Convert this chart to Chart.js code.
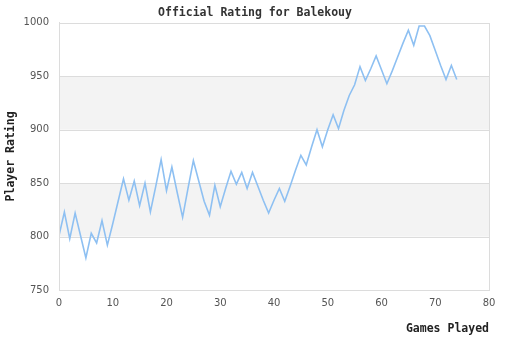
<!DOCTYPE html>
<html>
<head>
<meta charset="utf-8">
<script src="https://cdn.jsdelivr.net/npm/chart.js@4/dist/chart.umd.min.js"></script>
<style>
  html, body { margin: 0; padding: 0; background: #fff; }
  #wrap { width: 510px; height: 340px; }
</style>
</head>
<body>
<div id="wrap"><canvas id="rating-chart" width="510" height="340"></canvas></div>
<script>
// Rating after each game (game 0 .. 74)
const games = [
  0, 1, 2, 3, 4, 5, 6, 7, 8, 9, 10, 11, 12, 13, 14, 15, 16, 17, 18, 19,
  20, 21, 22, 23, 24, 25, 26, 27, 28, 29, 30, 31, 32, 33, 34, 35, 36, 37, 38, 39,
  40, 41, 42, 43, 44, 45, 46, 47, 48, 49, 50, 51, 52, 53, 54, 55, 56, 57, 58, 59,
  60, 61, 62, 63, 64, 65, 66, 67, 68, 69, 70, 71, 72, 73, 74
]
const ratings = [
  801, 823, 798, 822, 801, 780, 803, 794, 815, 792, 812, 833, 854, 834, 852, 829, 850, 823, 847, 872,
  843, 865, 841, 818, 845, 871, 852, 833, 820, 848, 828, 845, 861, 849, 860, 845, 860, 847, 834, 822,
  834, 845, 833, 847, 862, 876, 867, 884, 900, 884, 900, 914, 901, 918, 932, 942, 959, 946, 957, 969,
  956, 943, 955, 968, 981, 993, 979, 997, 997, 988, 974, 960, 947, 960, 947
]

// Axis ranges and shaded rating bands
const xTicks = [0, 80, 10]
const yTicks = [750, 1000, 50]
const bands = [[800, 850], [900, 950]]

const monoFont = "'DejaVu Sans Mono', 'Liberation Mono', monospace"
const sansFont = "'DejaVu Sans', Verdana, sans-serif"

// Fill alternating bands and outline the plot area
const bandPlugin = {
  id: "bands",
  beforeDatasetsDraw(chart) {
    const { ctx, chartArea, scales } = chart
    ctx.save()
    ctx.fillStyle = "#f3f3f3"
    bands.forEach(([lo, hi]) => {
      const top = scales.y.getPixelForValue(hi)
      const bottom = scales.y.getPixelForValue(lo)
      ctx.fillRect(chartArea.left, top, chartArea.right - chartArea.left, bottom - top)
    })
    ctx.restore()
  },
  afterDraw(chart) {
    const { ctx, chartArea } = chart
    ctx.save()
    ctx.strokeStyle = "#dcdcdc"
    ctx.lineWidth = 1
    ctx.strokeRect(Math.round(chartArea.left) + 0.5, Math.round(chartArea.top) + 0.5,
      Math.round(chartArea.right - chartArea.left), Math.round(chartArea.bottom - chartArea.top))
    ctx.restore()
  },
}

// Redraw gridlines over the bands
const gridPlugin = {
  id: "gridOver",
  beforeDatasetsDraw(chart) {
    const { ctx, chartArea, scales } = chart
    ctx.save()
    ctx.strokeStyle = "#dcdcdc"
    ctx.lineWidth = 1
    for (let v = yTicks[0]; v <= yTicks[1]; v += yTicks[2]) {
      const y = Math.round(scales.y.getPixelForValue(v)) + 0.5
      ctx.beginPath()
      ctx.moveTo(chartArea.left, y)
      ctx.lineTo(chartArea.right, y)
      ctx.stroke()
    }
    ctx.restore()
  },
}

const ctx = document.getElementById("rating-chart").getContext("2d")

new Chart(ctx, {
  type: "line",
  data: {
    datasets: [
      {
        label: "Rating",
        data: games.map((g, i) => ({ x: g, y: ratings[i] })),
        borderColor: "#8ec0f2",
        borderWidth: 1.6,
        pointRadius: 0,
        tension: 0,
        fill: false,
      },
    ],
  },
  options: {
    responsive: false,
    animation: false,
    layout: { padding: 0 },
    plugins: {
      legend: { display: false },
      tooltip: { enabled: false },
      title: {
        display: true,
        text: "Official Rating for Balekouy",
        color: "#333",
        font: { family: monoFont, size: 11.5, weight: "bold", lineHeight: 1.2 },
        padding: { top: 6, bottom: 3 },
      },
    },
    scales: {
      x: {
        type: "linear",
        min: xTicks[0],
        max: xTicks[1],
        ticks: {
          stepSize: xTicks[2],
          color: "#555",
          font: { family: sansFont, size: 10 },
          padding: 7,
        },
        grid: { display: false, drawTicks: false },
        border: { color: "#dcdcdc" },
        title: {
          display: true,
          text: "Games Played",
          align: "end",
          color: "#222",
          font: { family: monoFont, size: 11.5, weight: "bold" },
          padding: { top: 10 },
        },
        afterFit(scale) {
          scale.height = 50
        },
      },
      y: {
        min: yTicks[0],
        max: yTicks[1],
        ticks: {
          stepSize: yTicks[2],
          color: "#555",
          font: { family: sansFont, size: 10 },
          padding: 10,
          callback: (value) => String(value),
        },
        grid: { display: false, drawTicks: false },
        border: { color: "#dcdcdc" },
        title: {
          display: true,
          text: "Player Rating",
          color: "#222",
          font: { family: monoFont, size: 11.5, weight: "bold" },
          padding: { bottom: 4 },
        },
        afterFit(scale) {
          scale.width = 59
        },
      },
      // empty right-hand axis, only reserves the right margin
      yRight: {
        position: "right",
        min: yTicks[0],
        max: yTicks[1],
        ticks: { display: false },
        grid: { display: false, drawTicks: false },
        border: { display: false },
        afterFit(scale) {
          scale.width = 21
        },
      },
    },
  },
  plugins: [bandPlugin, gridPlugin],
})
</script>
</body>
</html>
